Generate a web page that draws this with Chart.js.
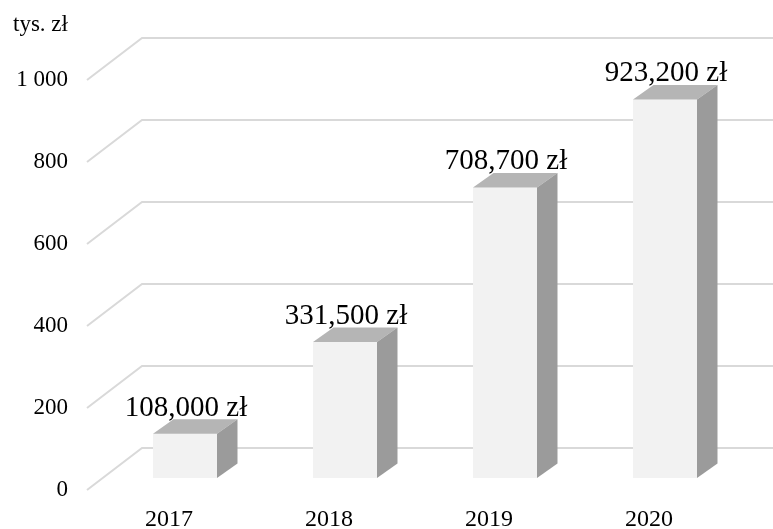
<!DOCTYPE html>
<html>
<head>
<meta charset="utf-8">
<script src="https://cdn.jsdelivr.net/npm/chart.js@4/dist/chart.umd.min.js"></script>
<style>
  html, body { margin: 0; padding: 0; background: #fff; }
  #wrap { width: 773px; height: 529px; }
</style>
</head>
<body>
<div id="wrap"><canvas id="revenueChart" width="773" height="529"></canvas></div>
<script>
const years = ['2017', '2018', '2019', '2020'];
const revenue = [108, 331.5, 708.7, 923.2]; // tys. zł
const yTicks = [0, 200, 400, 600, 800, 1000];

const colors = {
  front: '#f2f2f2',
  top: '#b5b5b5',
  side: '#9b9b9b',
  grid: '#d9d9d9',
  text: '#000000'
};

const serif = '"Liberation Serif", "Times New Roman", serif';
const depth = { dx: 20.5, dy: 14.5 };

function formatThousands(n, sep) {
  return String(Math.round(n)).replace(/\B(?=(\d{3})+(?!\d))/g, sep);
}

// back wall + floor diagonals, drawn behind the bars
const wallPlugin = {
  id: 'wall',
  beforeDatasetsDraw(chart) {
    const { ctx, chartArea, scales } = chart;
    ctx.save();
    ctx.strokeStyle = colors.grid;
    ctx.lineWidth = 2;
    yTicks.forEach(v => {
      const py = scales.y.getPixelForValue(v);
      ctx.beginPath();
      ctx.moveTo(chartArea.left - 18, py + 12);
      ctx.lineTo(chartArea.left + 37, py - 30);
      ctx.lineTo(chart.width, py - 30);
      ctx.stroke();
    });
    ctx.fillStyle = colors.text;
    ctx.font = '23px ' + serif;
    ctx.textAlign = 'left';
    ctx.textBaseline = 'alphabetic';
    ctx.fillText('tys. zł', 13, 31);
    ctx.restore();
  },
  // top and side faces of each column, then the value labels
  afterDatasetsDraw(chart) {
    const { ctx } = chart;
    const meta = chart.getDatasetMeta(0);
    ctx.save();
    meta.data.forEach((bar, i) => {
      const { x, y, base, width } = bar.getProps(['x', 'y', 'base', 'width'], true);
      const l = x - width / 2, r = x + width / 2;
      ctx.fillStyle = colors.top;
      ctx.beginPath();
      ctx.moveTo(l, y);
      ctx.lineTo(r, y);
      ctx.lineTo(r + depth.dx, y - depth.dy);
      ctx.lineTo(l + depth.dx, y - depth.dy);
      ctx.closePath();
      ctx.fill();
      ctx.fillStyle = colors.side;
      ctx.beginPath();
      ctx.moveTo(r, y);
      ctx.lineTo(r + depth.dx, y - depth.dy);
      ctx.lineTo(r + depth.dx, base - depth.dy);
      ctx.lineTo(r, base);
      ctx.closePath();
      ctx.fill();

      ctx.fillStyle = colors.text;
      ctx.font = '29px ' + serif;
      ctx.textAlign = 'center';
      ctx.textBaseline = 'alphabetic';
      ctx.fillText(formatThousands(revenue[i] * 1000, ',') + ' zł', x + 1, y - 18);
    });
    ctx.restore();
  }
};

new Chart(document.getElementById('revenueChart'), {
  type: 'bar',
  data: {
    labels: years,
    datasets: [{
      data: revenue,
      backgroundColor: colors.front,
      borderWidth: 0,
      barPercentage: 0.4,
      categoryPercentage: 1
    }]
  },
  options: {
    responsive: false,
    animation: false,
    layout: { padding: { top: 68, left: 0, right: 28, bottom: 0 } },
    plugins: {
      legend: { display: false },
      tooltip: { enabled: false }
    },
    scales: {
      x: {
        grid: { display: false, drawTicks: false },
        border: { display: false },
        ticks: {
          color: colors.text,
          font: { family: serif, size: 24 },
          padding: 27,
          labelOffset: -16,
          maxRotation: 0
        },
        afterFit(scale) { scale.height = 51; }
      },
      y: {
        min: 0,
        max: 1000,
        afterBuildTicks(scale) { scale.ticks = yTicks.map(v => ({ value: v })); },
        grid: { display: false, drawTicks: false },
        border: { display: false },
        ticks: {
          color: colors.text,
          font: { family: serif, size: 23 },
          padding: 37,
          labelOffset: 12,
          callback: v => formatThousands(v, ' ')
        },
        afterFit(scale) { scale.width = 105; }
      }
    }
  },
  plugins: [wallPlugin]
});
</script>
</body>
</html>
